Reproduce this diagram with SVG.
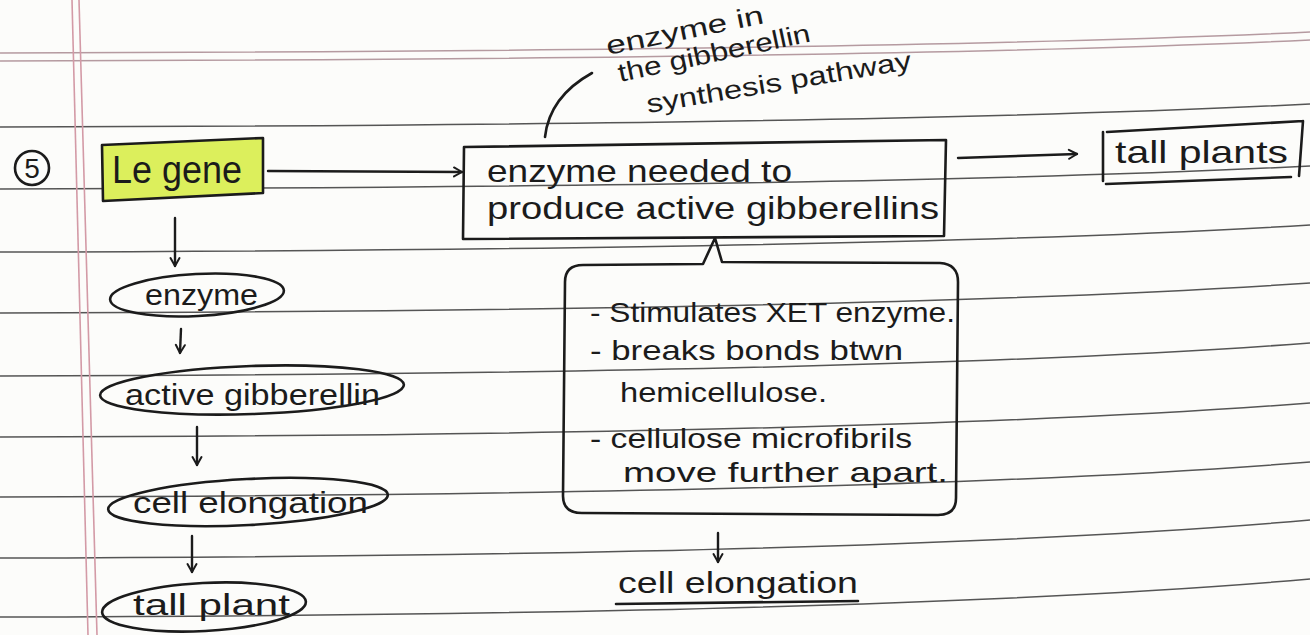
<svg xmlns="http://www.w3.org/2000/svg" width="1310" height="635" viewBox="0 0 1310 635">
  <style>
    .rule { fill: none; stroke: #555555; stroke-width: 1.5; }
    .head { fill: none; stroke: #b59aa0; stroke-width: 1.5; }
    .margin { fill: none; stroke: #d39aa6; stroke-width: 1.6; }
    .ink { fill: none; stroke: #1b1b1b; stroke-width: 2.6; stroke-linecap: round; stroke-linejoin: round; }
    .hand { font-family: "Liberation Sans", Arial, sans-serif; fill: #1b1b1b; }
    .arrow { fill: none; stroke: #1b1b1b; stroke-width: 2.4; stroke-linecap: round; marker-end: url(#ah); }
  </style>
  <defs>
    <marker id="ah" viewBox="0 0 12 12" refX="10" refY="6" markerWidth="12" markerHeight="12" markerUnits="userSpaceOnUse" orient="auto">
      <path d="M2,1.5 L10,6 L2,10.5" fill="none" stroke="#1b1b1b" stroke-width="2" stroke-linecap="round" stroke-linejoin="round"/>
    </marker>
  </defs>

  <!-- paper -->
  <rect x="0" y="0" width="1310" height="635" fill="#fcfcfa"/>

  <!-- ruled lines of the notebook page -->
  <g id="paper-lines">
    <path class="head" d="M0,53 Q900,51 1310,32"/>
    <path class="head" d="M0,61 Q900,59 1310,40"/>
    <path class="rule" d="M0,127 Q900,125 1310,104"/>
    <path class="rule" d="M0,189 Q900,187 1310,166"/>
    <path class="rule" d="M0,252 Q900,250 1310,225"/>
    <path class="rule" d="M0,313 Q900,311 1310,283"/>
    <path class="rule" d="M0,376 Q900,374 1310,343"/>
    <path class="rule" d="M0,437 Q900,435 1310,403"/>
    <path class="rule" d="M0,497 Q900,495 1310,462"/>
    <path class="rule" d="M0,558 Q900,556 1310,520"/>
    <path class="rule" d="M0,617 Q900,615 1310,579"/>
    <path class="margin" d="M72,0 L88,635"/>
    <path class="margin" d="M79,0 L97,635"/>
  </g>

  <!-- connectors -->
  <g id="connectors">
    <path class="arrow" d="M268,171 L462,172"/>
    <path class="arrow" d="M958,158 L1077,154"/>
    <path class="arrow" d="M175,218 L175,266"/>
    <path class="arrow" d="M181,329 L180,353"/>
    <path class="arrow" d="M197,427 L197,465"/>
    <path class="arrow" d="M192,536 L192,572"/>
    <path class="arrow" d="M718,533 L718,562"/>
    <path class="ink" d="M545,137 C548,110 565,88 592,73"/>
  </g>

  <!-- question number -->
  <g id="number">
    <circle class="ink" cx="32" cy="168" r="17" stroke-width="2.2"/>
    <text class="hand" x="32" y="178" font-size="28" text-anchor="middle">5</text>
  </g>

  <!-- Le gene (highlighted) -->
  <g id="le-gene">
    <polygon points="102,145 263,138 263,193 103,201" fill="#dcef5c"/>
    <polygon class="ink" points="102,145 263,138 263,193 103,201"/>
    <text class="hand" x="112" y="183" font-size="38" textLength="130" lengthAdjust="spacingAndGlyphs">Le gene</text>
  </g>

  <!-- enzyme box -->
  <g id="enzyme-needed">
    <polygon class="ink" points="464,147 946,140 944,236 463,239"/>
    <text class="hand" x="487" y="182" font-size="32" textLength="305" lengthAdjust="spacingAndGlyphs">enzyme needed to</text>
    <text class="hand" x="487" y="219" font-size="32" textLength="452" lengthAdjust="spacingAndGlyphs">produce active gibberellins</text>
  </g>

  <!-- side note -->
  <g id="side-note">
    <text class="hand" font-size="26" textLength="160" lengthAdjust="spacingAndGlyphs" transform="translate(608,55) rotate(-11.5)">enzyme in</text>
    <text class="hand" font-size="26" textLength="196" lengthAdjust="spacingAndGlyphs" transform="translate(620,82) rotate(-12)">the gibberellin</text>
    <text class="hand" font-size="26" textLength="268" lengthAdjust="spacingAndGlyphs" transform="translate(648,113) rotate(-9.5)">synthesis pathway</text>
  </g>

  <!-- tall plants -->
  <g id="tall-plants">
    <path class="ink" d="M1103,132 L1103,181 M1107,132 L1303,121 M1303,121 L1299,176"/>
    <path class="ink" d="M1106,184 L1291,177" stroke-width="3.2"/>
    <text class="hand" x="1115" y="163" font-size="32" textLength="173" lengthAdjust="spacingAndGlyphs">tall plants</text>
  </g>

  <!-- left chain -->
  <g id="enzyme">
    <ellipse class="ink" cx="197" cy="295" rx="87" ry="21" transform="rotate(-3 197 295)"/>
    <text class="hand" x="145" y="305" font-size="30" textLength="113" lengthAdjust="spacingAndGlyphs">enzyme</text>
  </g>
  <g id="active-gibberellin">
    <ellipse class="ink" cx="252" cy="390" rx="152" ry="24" transform="rotate(-2 252 390)"/>
    <text class="hand" x="125" y="405" font-size="30" textLength="255" lengthAdjust="spacingAndGlyphs">active gibberellin</text>
  </g>
  <g id="cell-elongation-left">
    <ellipse class="ink" cx="248" cy="502" rx="140" ry="23" transform="rotate(-3 248 502)"/>
    <text class="hand" x="133" y="513" font-size="30" textLength="235" lengthAdjust="spacingAndGlyphs">cell elongation</text>
  </g>
  <g id="tall-plant">
    <ellipse class="ink" cx="204" cy="607" rx="102" ry="24" transform="rotate(-3 204 607)"/>
    <text class="hand" x="133" y="615" font-size="30" textLength="157" lengthAdjust="spacingAndGlyphs">tall plant</text>
  </g>

  <!-- callout with pointer to the enzyme box -->
  <g id="callout">
    <path class="ink" d="M703,264 L715,238 L722,262 L940,263 Q958,264 958,282 L956,498 Q956,515 938,515 L582,513 Q563,513 563,496 L565,282 Q565,265 583,265 Z" />
    <text class="hand" x="590" y="322" font-size="28" textLength="365" lengthAdjust="spacingAndGlyphs">- Stimulates XET enzyme.</text>
    <text class="hand" x="590" y="360" font-size="28" textLength="313" lengthAdjust="spacingAndGlyphs">- breaks bonds btwn</text>
    <text class="hand" x="620" y="402" font-size="28" textLength="207" lengthAdjust="spacingAndGlyphs">hemicellulose.</text>
    <text class="hand" x="590" y="448" font-size="28" textLength="322" lengthAdjust="spacingAndGlyphs">- cellulose microfibrils</text>
    <text class="hand" x="623" y="482" font-size="28" textLength="325" lengthAdjust="spacingAndGlyphs">move further apart.</text>
  </g>

  <!-- outcome -->
  <g id="cell-elongation">
    <text class="hand" x="618" y="593" font-size="30" textLength="240" lengthAdjust="spacingAndGlyphs">cell elongation</text>
    <path class="ink" d="M616,604 L858,601"/>
  </g>
</svg>
